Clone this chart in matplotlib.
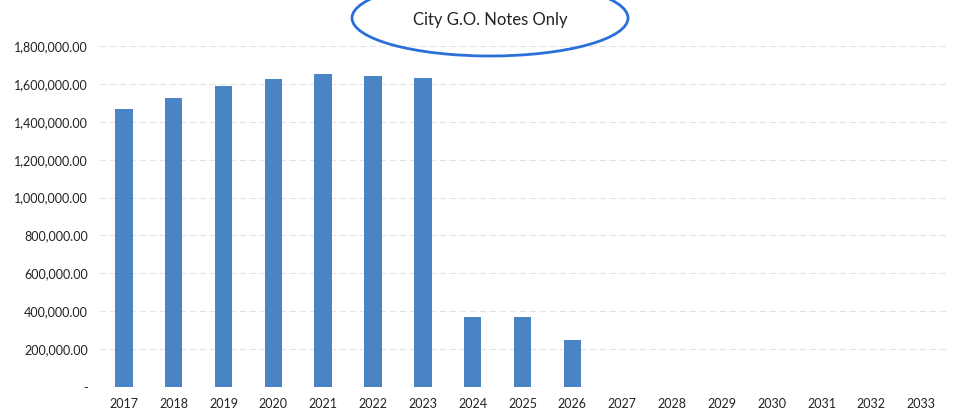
import matplotlib
matplotlib.use("Agg")
import matplotlib.pyplot as plt
from matplotlib.patches import Ellipse
from matplotlib.ticker import FuncFormatter

years = [str(y) for y in range(2017, 2034)]
values = [1465500, 1523600, 1590200, 1624000, 1650500, 1643000, 1629300,
          371000, 371000, 248000, 0, 0, 0, 0, 0, 0, 0]
yticks = [0, 200000, 400000, 600000, 800000, 1000000, 1200000, 1400000, 1600000, 1800000]
title = "City G.O. Notes Only"

plt.rcParams['font.family'] = ['Lato', 'DejaVu Sans']

fig = plt.figure(figsize=(9.67, 4.17), dpi=100)
ax = fig.add_axes([99/967, 1 - 387/417, (946 - 99)/967, (387 - 46)/417])

x = list(range(len(years)))
ax.bar(x, values, width=0.35, color='#4a84c4', zorder=3)

ax.set_xlim(-0.5, len(years) - 0.5)
ax.set_ylim(0, 1800000)
ax.set_yticks(yticks)
ax.yaxis.set_major_formatter(FuncFormatter(lambda v, p: "-" if v == 0 else f"{v:,.2f}"))
ax.set_xticks(x)
ax.set_xticklabels(years)
ax.tick_params(axis='both', length=0, labelsize=9, colors='#222222')
ax.tick_params(axis='x', pad=8)
ax.tick_params(axis='y', pad=8)
ax.grid(axis='y', color='#e4e4e4', linewidth=0.8, linestyle=(0, (6, 3)), zorder=0)
for s in ax.spines.values():
    s.set_visible(False)

fig.text(490/967, 1 - 20/417, title, ha='center', va='center', fontsize=12, color='#222222')

ell = Ellipse((490/967, 1 - 18/417), 276/967, 76/417, transform=fig.transFigure,
              fill=False, edgecolor='#2b6fd8', linewidth=2, zorder=5)
fig.add_artist(ell)

fig.savefig("out.png", dpi=100, facecolor='white')
